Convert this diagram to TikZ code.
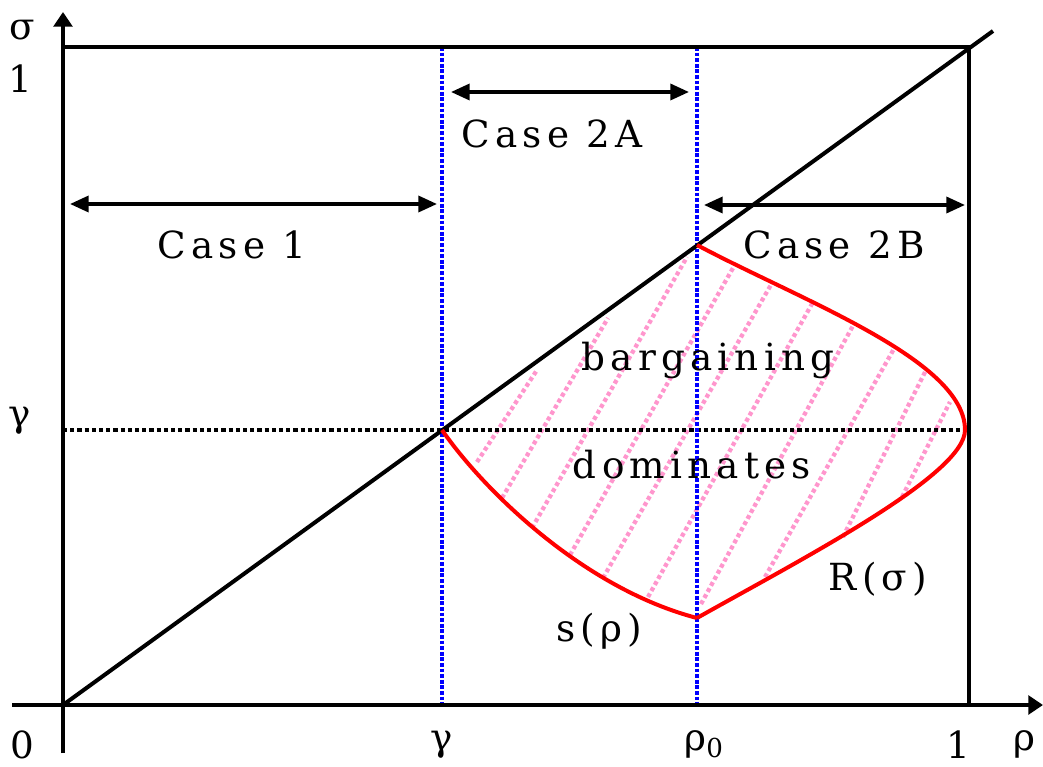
\documentclass[tikz,border=0pt]{standalone}
\usepackage{fontspec}
\setmainfont{DejaVu Serif}
\usetikzlibrary{arrows.meta}
\begin{document}
\begin{tikzpicture}[x=0.75pt,y=-0.75pt,
  lab/.style={font=\fontsize{28}{34}\selectfont\addfontfeature{LetterSpace=14}, inner sep=0pt, anchor=base},
  axlab/.style={font=\fontsize{28}{34}\selectfont, inner sep=0pt, anchor=base},
  axisline/.style={line width=3.6pt},
  boxline/.style={line width=3pt},
  bluedot/.style={blue, line width=3.2pt, dash pattern=on 2.8pt off 1.4pt},
  blackdot/.style={black, line width=3.2pt, dash pattern=on 3.2pt off 2.2pt},
  hatch/.style={color={rgb,255:red,255;green,150;blue,205}, line width=3.2pt, dash pattern=on 3pt off 2.2pt},
  redcurve/.style={red, line width=3pt, line join=round},
  dbl/.style={line width=2.6pt, {Triangle[length=14pt,width=12pt]}-{Triangle[length=14pt,width=12pt]}},
  axarrow/.style={-{Triangle[length=11pt,width=14pt]}}
]
\useasboundingbox (0,0) rectangle (1043,767);
% key coordinates
\coordinate (O) at (63,705);
\coordinate (Ybot) at (63,753);
\coordinate (Ytop) at (63,12);
\coordinate (Xleft) at (12,705);
\coordinate (Xright) at (1043,705);
\coordinate (TL) at (63,47);
\coordinate (TR) at (969,47);
\coordinate (BR) at (969,705);
\coordinate (Dend) at (993,31);
\coordinate (GL) at (63,430);
\coordinate (GR) at (969,430);
\coordinate (G) at (442,430);
\coordinate (Gtop) at (442,47);
\coordinate (Gbot) at (442,705);
\coordinate (Rtop) at (697,47);
\coordinate (Rbot) at (697,705);
\coordinate (P) at (697,245);
\coordinate (S) at (697,618);
\coordinate (E) at (965,430);

% hatching
\foreach \ax/\ay/\bx/\by in {477/462/537/370, 502/498/608/318, 532/528/687/257, 570/555/733/268, 603/578/772/283, 648/597/813/302, 701/604/855/322, 765/577/895/347, 843/537/925/372, 902/497/950/402}
  \draw[hatch] (\ax,\ay) -- (\bx,\by);

% dotted lines
\draw[blackdot] (GL) -- (GR);
\draw[bluedot] (Gtop) -- (Gbot);
\draw[bluedot] (Rtop) -- (Rbot);

% box and diagonal
\draw[boxline] (TL) -- (TR) -- (BR);
\draw[boxline] (O) -- (Dend);

% axes
\draw[axisline] (Ybot) -- (TL);
\draw[axisline, axarrow] (Ybot) -- (Ytop);
\draw[axisline, axarrow] (Xleft) -- (Xright);

% red curves
\draw[redcurve] (G) .. controls (482,488) and (582,588) .. (S);
\draw[redcurve] (S) .. controls (800,560) and (965,475) .. (E)
                    .. controls (965,360) and (800,300) .. (P);

% double arrows
\coordinate (A1) at (451,92); \coordinate (A2) at (689,92);
\coordinate (B1) at (70,204); \coordinate (B2) at (437,204);
\coordinate (C1) at (704,205); \coordinate (C2) at (965,205);
\draw[dbl] (A1) -- (A2);
\draw[dbl] (B1) -- (B2);
\draw[dbl] (C1) -- (C2);

% labels
\node[lab] (l2a) at (552,147) {Case 2A};
\node[lab] (l1) at (232,258) {Case 1};
\node[lab] (l2b) at (834,258) {Case 2B};
\node[lab] (lbar) at (708,370) {bargaining};
\node[lab] (ldom) at (692,478) {dominates};
\node[lab] (lR) at (878,590) {R(σ)};
\node[lab] (ls) at (599,641) {s(ρ)};

% axis labels
\node[axlab] (ysig) at (22,40) {σ};
\node[axlab] (y1) at (20,93) {1};
\node[axlab] (ygam) at (20,426) {γ};
\node[axlab] (x0) at (22,758) {0};
\node[axlab] (xgam) at (442,750) {γ};
\node[axlab] (xrho0) at (704,750) {ρ$_{\mathrm{0}}$};
\node[axlab] (x1) at (958,758) {1};
\node[axlab] (xrho) at (1024,750) {ρ};
\end{tikzpicture}
\end{document}
